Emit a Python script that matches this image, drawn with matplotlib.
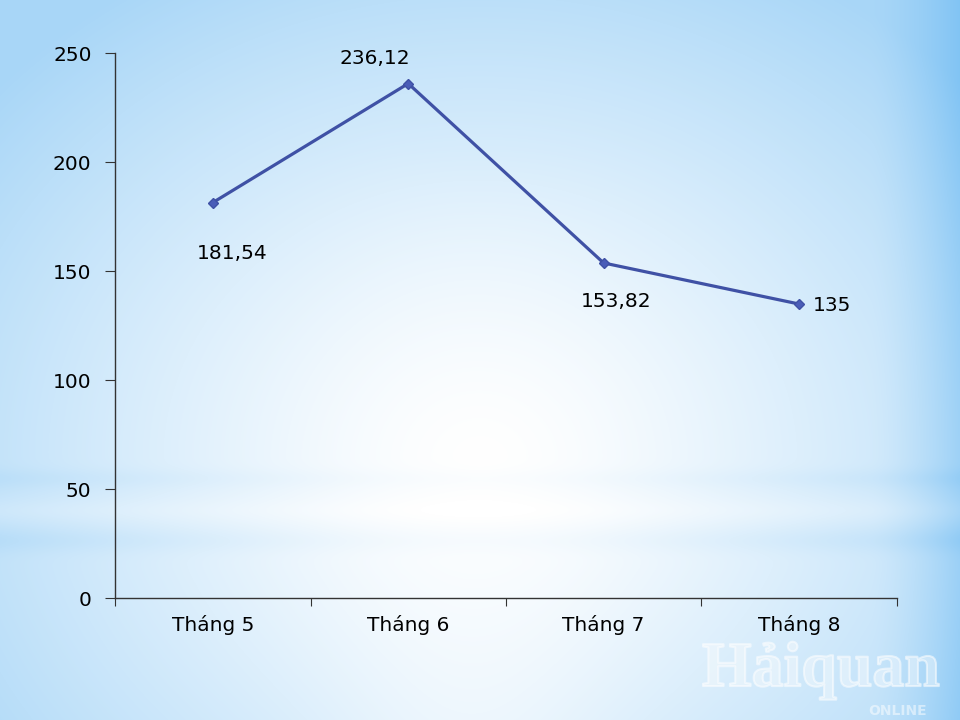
import numpy as np
import matplotlib
matplotlib.use('Agg')
import matplotlib.pyplot as plt
import matplotlib.patheffects as pe

# Dữ liệu
thang = ['Tháng 5', 'Tháng 6', 'Tháng 7', 'Tháng 8']
gia_tri = [181.54, 236.12, 153.82, 135]
nhan = ['181,54', '236,12', '153,82', '135']
y_ticks = [0, 50, 100, 150, 200, 250]

plt.rcParams['font.family'] = ['DejaVu Sans']
FS = 14.5

fig = plt.figure(figsize=(9.6, 7.2), dpi=100)

# Nền gradient xanh nhạt -> trắng ở giữa
bg = fig.add_axes([0, 0, 1, 1])
yy, xx = np.mgrid[0:720, 0:960]
r = np.sqrt(((xx - 480) / 650.0) ** 2 + ((yy - 460) / 560.0) ** 2)
t = np.clip(r, 0, 1) ** 1.3
# vệt trắng dọc ở giữa
t = t * (1 - 0.45 * np.exp(-((xx - 470) / 140.0) ** 2) * np.clip((yy - 150) / 400.0, 0, 1))
# các dải ngang mờ
band = (0.10 * np.exp(-((yy - 478) / 10.0) ** 2) + 0.12 * np.exp(-((yy - 540) / 12.0) ** 2)
        - 0.10 * np.exp(-((yy - 510) / 12.0) ** 2))
t = np.clip(t + band * (0.4 + t), 0, 1)
# mép phải xanh đậm hơn
t = t + 0.45 * np.clip((xx - 870) / 90.0, 0, 1) ** 1.5
c_in = np.array([1.0, 1.0, 1.0])
c_out = np.array([0.66, 0.84, 0.97])
img = c_in[None, None, :] * (1 - t[..., None]) + c_out[None, None, :] * t[..., None]
img = np.clip(img, 0, 1)
bg.imshow(img, aspect='auto', extent=[0, 1, 0, 1])
bg.axis('off')

# Watermark
bg.text(0.855, 0.068, 'Hảiquan', transform=bg.transAxes, ha='center', va='center',
        fontsize=46, family='Liberation Serif', fontweight='bold', color=(1, 1, 1, 0.22),
        path_effects=[pe.withStroke(linewidth=1.5, foreground=(1, 1, 1, 0.55))])
bg.text(0.935, 0.012, 'ONLINE', transform=bg.transAxes, ha='center', va='center',
        fontsize=10, color=(1, 1, 1, 0.5), fontweight='bold')

ax = fig.add_axes([0.120, 0.169, 0.814, 0.757])
ax.patch.set_alpha(0)
x = np.arange(len(thang))
ax.plot(x, gia_tri, color='#3F51A5', lw=2.3, marker='D', ms=5, mfc='#4A5DB8', mec='#3F51A5')

ax.set_xlim(-0.5, len(thang) - 0.5)
ax.set_ylim(0, 250)
ax.set_yticks(y_ticks)
ax.set_xticks(np.arange(-0.5, len(thang), 1.0))
ax.set_xticklabels([])
ax.set_xticks(x, minor=True)
ax.set_xticklabels(thang, minor=True)
ax.tick_params(axis='x', which='minor', length=0, pad=12, labelsize=FS)
ax.tick_params(axis='x', which='major', length=6, direction='out', color='#333333')
ax.tick_params(axis='y', length=7, direction='out', labelsize=FS, pad=10, color='#333333')

for s in ['top', 'right']:
    ax.spines[s].set_visible(False)
for s in ['left', 'bottom']:
    ax.spines[s].set_color('#333333')
    ax.spines[s].set_linewidth(1)

# Nhãn dữ liệu
offsets = [(14, -37), (-24, 18), (9, -28), (24, -1)]
for xi, yi, lb, off in zip(x, gia_tri, nhan, offsets):
    ax.annotate(lb, (xi, yi), xytext=off, textcoords='offset points',
                ha='center', va='center', fontsize=FS, color='black')

fig.savefig('out.png', dpi=100)
